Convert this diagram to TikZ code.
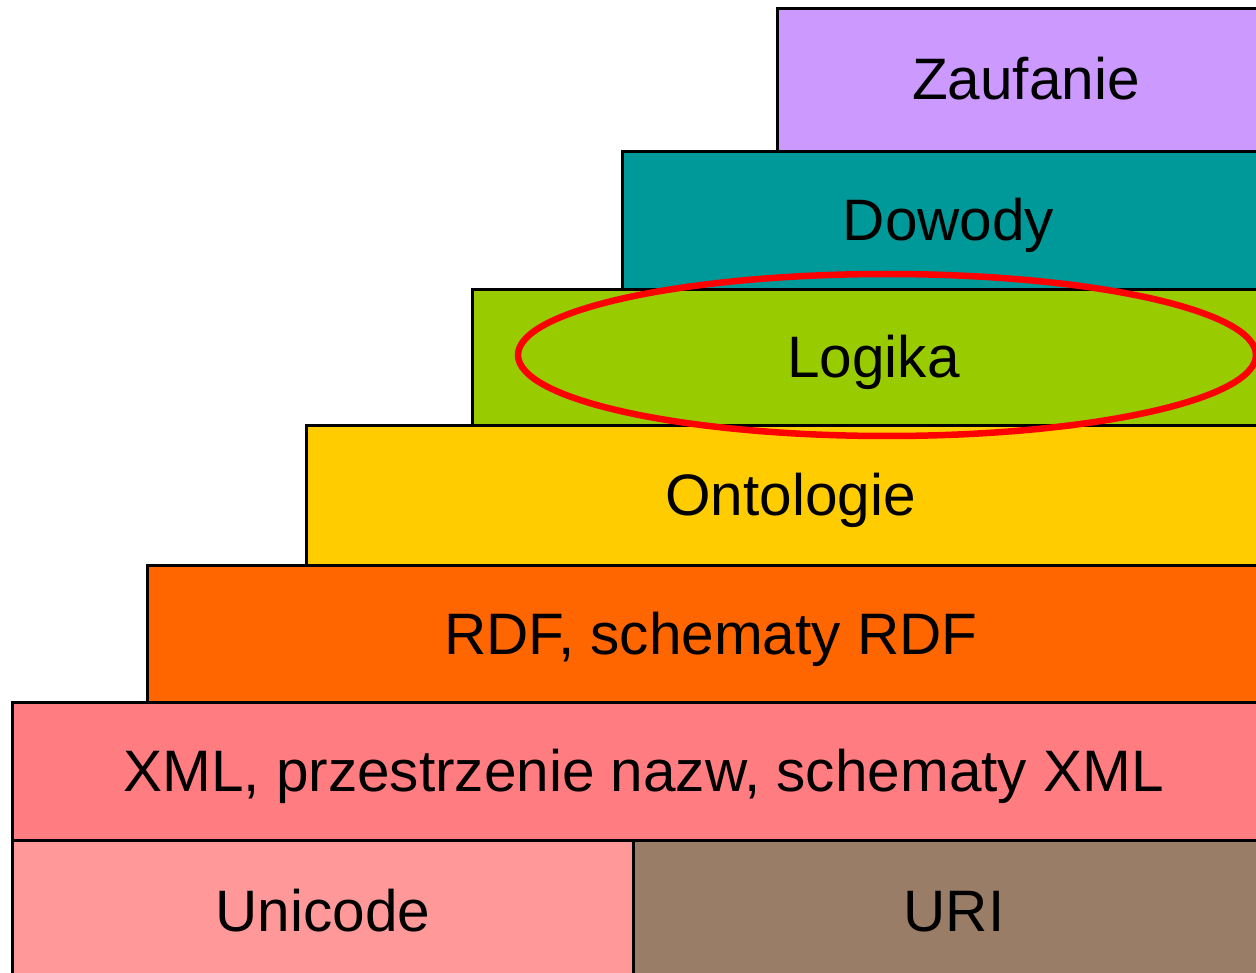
\documentclass[tikz,border=0pt]{standalone}
\usepackage{fontspec}
\setmainfont{Liberation Sans}
\definecolor{cTrust}{HTML}{CC99FF}
\definecolor{cProof}{HTML}{009999}
\definecolor{cLogic}{HTML}{99CC00}
\definecolor{cOnto}{HTML}{FFCC00}
\definecolor{cRdf}{HTML}{FF6600}
\definecolor{cXml}{HTML}{FF7C80}
\definecolor{cUni}{HTML}{FF9999}
\definecolor{cUri}{HTML}{9A7D66}
\begin{document}
\begin{tikzpicture}[x=1pt,y=-1pt,
  layer/.style={draw=black, line width=3pt, anchor=north west, inner sep=0pt,
    font=\fontsize{58.5}{64}\selectfont, text height=40pt, text depth=0pt}]
\useasboundingbox (0,0) rectangle (1256,973);
\clip (0,0) rectangle (1256,973);
% stacked layers, each reaching past the right and bottom edges
\node[layer, fill=cTrust, minimum width=497pt, minimum height=143pt] (trust) at (776,7) {Zaufanie};
\node[layer, fill=cProof, minimum width=652pt, minimum height=138pt] (proof) at (621,150) {Dowody};
\node[layer, fill=cLogic, minimum width=802pt, minimum height=136pt] (logic) at (471,288) {Logika};
\node[layer, fill=cOnto, minimum width=968pt, minimum height=140pt] (onto) at (305,424) {Ontologie};
\node[layer, fill=cRdf, minimum width=1127pt, minimum height=137pt] (rdf) at (146,564) {RDF, schematy RDF};
\node[layer, fill=cXml, minimum width=1262pt, minimum height=138pt] (xml) at (11,701) {XML, przestrzenie nazw, schematy XML};
\node[layer, fill=cUni, minimum width=621pt, minimum height=142pt] (uni) at (11,839) {Unicode};
\node[layer, fill=cUri, minimum width=641pt, minimum height=142pt] (uri) at (632,839) {URI};
% highlight around the logic layer
\draw[red, line width=6.5pt] (887,355) ellipse [x radius=369, y radius=81];
\end{tikzpicture}
\end{document}
